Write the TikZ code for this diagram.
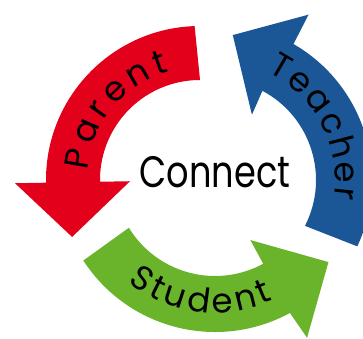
\documentclass[tikz,border=0pt]{standalone}
\usepackage{fontspec}
\setmainfont{Poppins}
\usepackage{xcolor}
\usepackage{tikz}
\usetikzlibrary{calc, decorations.text}

\definecolor{parentred}{HTML}{E3001B}
\definecolor{teacherblue}{HTML}{1B5797}
\definecolor{studentgreen}{HTML}{6AB42C}

\newcommand{\arclabelfont}{\fontsize{34}{34}\selectfont}

\begin{document}
\begin{tikzpicture}[
  x=1pt, y=1pt,
  arclabel/.style={decorate, decoration={text along path, text align={fit to path}, text={|\arclabelfont|#1}}}
]
\clip (0,0) rectangle (363,338);

% red arrow (parent), turning left and down
\begin{scope}[shift={(200,158)}]
\fill[parentred] (92:154) arc[start angle=92, end angle=181, radius=154]
  -- (181:185) -- (204:140) -- (181:70) -- (181:100)
  arc[start angle=181, end angle=90, radius=100] -- cycle;
\path[arclabel=Parent] (175:113) arc[start angle=175, end angle=106, radius=113];
\end{scope}

% blue arrow (teacher), going up
\begin{scope}[shift={(215,158)}]
\fill[teacherblue] (-25:157) arc[start angle=-25, end angle=60, radius=157]
  -- (60.5:190) -- (83:146) -- (60.5:75) -- (62:101)
  arc[start angle=62, end angle=-27, radius=101] -- cycle;
\path[arclabel=Teacher] (64:120) arc[start angle=64, end angle=-9, radius=120];
\end{scope}

% green arrow (student), going right
\begin{scope}[shift={(215,163)}]
\fill[studentgreen] (213:157) arc[start angle=213, end angle=298.5, radius=157]
  -- (299.5:187) -- (322.5:143) -- (298.5:74) -- (298.5:101)
  arc[start angle=298.5, end angle=211.5, radius=101] -- cycle;
\path[arclabel=Student] (231:138) arc[start angle=231, end angle=295, radius=138];
\end{scope}

% centre text
\node[font=\fontsize{44}{44}\selectfont, xscale=0.8, anchor=base, inner sep=0pt] (connect) at (215,151) {Connect};

\end{tikzpicture}
\end{document}
